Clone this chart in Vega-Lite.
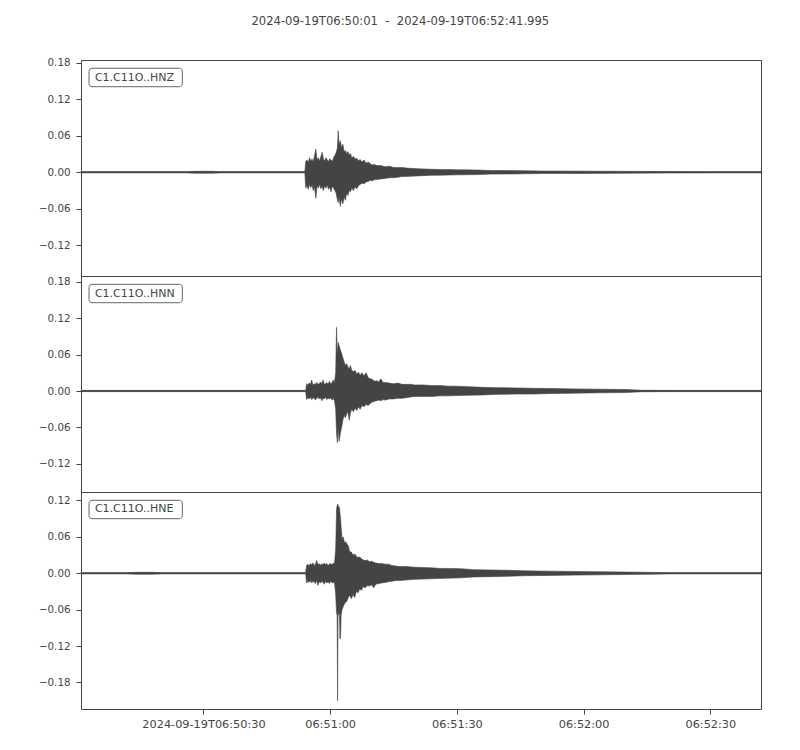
{
  "$schema": "https://vega.github.io/schema/vega-lite/v6.json",
  "background": "white",
  "padding": {"left": 37, "top": 15, "right": 40, "bottom": 20},
  "bounds": "flush",
  "title": {
    "text": "2024-09-19T06:50:01\u00a0\u00a0-\u00a0\u00a02024-09-19T06:52:41.995",
    "font": "DejaVu Sans",
    "fontSize": 11.6,
    "fontWeight": "normal",
    "color": "#444444",
    "anchor": "middle",
    "offset": 30
  },
  "datasets": {
    "z": [
      {"sec": 1, "lo": -0.001, "hi": 0.001},
      {"sec": 26, "lo": -0.001, "hi": 0.001},
      {"sec": 28, "lo": -0.0016, "hi": 0.0016},
      {"sec": 32, "lo": -0.0016, "hi": 0.0016},
      {"sec": 34, "lo": -0.001, "hi": 0.001},
      {"sec": 54.0, "lo": -0.001, "hi": 0.001},
      {"sec": 54.2, "lo": -0.026, "hi": 0.018},
      {"sec": 54.5, "lo": -0.022, "hi": 0.020},
      {"sec": 54.8, "lo": -0.028, "hi": 0.016},
      {"sec": 55.1, "lo": -0.020, "hi": 0.024},
      {"sec": 55.4, "lo": -0.025, "hi": 0.018},
      {"sec": 55.7, "lo": -0.021, "hi": 0.022},
      {"sec": 56.0, "lo": -0.030, "hi": 0.017},
      {"sec": 56.3, "lo": -0.024, "hi": 0.028},
      {"sec": 56.6, "lo": -0.043, "hi": 0.038},
      {"sec": 56.9, "lo": -0.022, "hi": 0.020},
      {"sec": 57.2, "lo": -0.026, "hi": 0.024},
      {"sec": 57.5, "lo": -0.020, "hi": 0.018},
      {"sec": 57.8, "lo": -0.027, "hi": 0.026},
      {"sec": 58.1, "lo": -0.023, "hi": 0.033},
      {"sec": 58.4, "lo": -0.030, "hi": 0.022},
      {"sec": 58.7, "lo": -0.022, "hi": 0.019},
      {"sec": 59.0, "lo": -0.026, "hi": 0.024},
      {"sec": 59.3, "lo": -0.021, "hi": 0.020},
      {"sec": 59.6, "lo": -0.028, "hi": 0.018},
      {"sec": 59.9, "lo": -0.024, "hi": 0.022},
      {"sec": 60.2, "lo": -0.032, "hi": 0.020},
      {"sec": 60.5, "lo": -0.023, "hi": 0.018},
      {"sec": 60.8, "lo": -0.026, "hi": 0.024},
      {"sec": 61.1, "lo": -0.030, "hi": 0.028},
      {"sec": 61.4, "lo": -0.034, "hi": 0.032},
      {"sec": 61.7, "lo": -0.045, "hi": 0.040},
      {"sec": 61.9, "lo": -0.050, "hi": 0.068},
      {"sec": 62.1, "lo": -0.040, "hi": 0.045},
      {"sec": 62.4, "lo": -0.056, "hi": 0.052},
      {"sec": 62.7, "lo": -0.044, "hi": 0.040},
      {"sec": 63.0, "lo": -0.052, "hi": 0.046},
      {"sec": 63.3, "lo": -0.040, "hi": 0.034},
      {"sec": 63.6, "lo": -0.046, "hi": 0.036},
      {"sec": 63.9, "lo": -0.034, "hi": 0.030},
      {"sec": 64.2, "lo": -0.038, "hi": 0.034},
      {"sec": 64.5, "lo": -0.030, "hi": 0.028},
      {"sec": 64.8, "lo": -0.032, "hi": 0.031},
      {"sec": 65.1, "lo": -0.026, "hi": 0.024},
      {"sec": 65.5, "lo": -0.030, "hi": 0.026},
      {"sec": 65.9, "lo": -0.024, "hi": 0.022},
      {"sec": 66.3, "lo": -0.027, "hi": 0.023},
      {"sec": 66.7, "lo": -0.022, "hi": 0.019},
      {"sec": 67.1, "lo": -0.020, "hi": 0.021},
      {"sec": 67.5, "lo": -0.018, "hi": 0.017},
      {"sec": 68.0, "lo": -0.019, "hi": 0.020},
      {"sec": 68.5, "lo": -0.016, "hi": 0.015},
      {"sec": 69.0, "lo": -0.015, "hi": 0.017},
      {"sec": 69.5, "lo": -0.013, "hi": 0.014},
      {"sec": 70.0, "lo": -0.014, "hi": 0.012},
      {"sec": 70.5, "lo": -0.012, "hi": 0.013},
      {"sec": 71.0, "lo": -0.012, "hi": 0.011},
      {"sec": 72.0, "lo": -0.011, "hi": 0.011},
      {"sec": 73.0, "lo": -0.010, "hi": 0.009},
      {"sec": 74.0, "lo": -0.009, "hi": 0.010},
      {"sec": 75.0, "lo": -0.009, "hi": 0.008},
      {"sec": 76.0, "lo": -0.008, "hi": 0.008},
      {"sec": 77.0, "lo": -0.007, "hi": 0.008},
      {"sec": 78.0, "lo": -0.007, "hi": 0.007},
      {"sec": 79.0, "lo": -0.0065, "hi": 0.0065},
      {"sec": 80.5, "lo": -0.006, "hi": 0.006},
      {"sec": 82, "lo": -0.0055, "hi": 0.0055},
      {"sec": 84, "lo": -0.005, "hi": 0.005},
      {"sec": 86, "lo": -0.0048, "hi": 0.0045},
      {"sec": 88, "lo": -0.0045, "hi": 0.0045},
      {"sec": 90, "lo": -0.0042, "hi": 0.004},
      {"sec": 92, "lo": -0.004, "hi": 0.004},
      {"sec": 95, "lo": -0.0038, "hi": 0.0036},
      {"sec": 98, "lo": -0.003, "hi": 0.003},
      {"sec": 102, "lo": -0.0028, "hi": 0.0028},
      {"sec": 106, "lo": -0.0025, "hi": 0.0025},
      {"sec": 110, "lo": -0.002, "hi": 0.002},
      {"sec": 120, "lo": -0.0018, "hi": 0.0018},
      {"sec": 130, "lo": -0.0015, "hi": 0.0015},
      {"sec": 140, "lo": -0.0012, "hi": 0.0012},
      {"sec": 150, "lo": -0.001, "hi": 0.001},
      {"sec": 161.995, "lo": -0.001, "hi": 0.001}
    ],
    "n": [
      {"sec": 1, "lo": -0.001, "hi": 0.001},
      {"sec": 54.2, "lo": -0.001, "hi": 0.001},
      {"sec": 54.4, "lo": -0.014, "hi": 0.012},
      {"sec": 54.7, "lo": -0.011, "hi": 0.010},
      {"sec": 55.0, "lo": -0.013, "hi": 0.013},
      {"sec": 55.3, "lo": -0.010, "hi": 0.011},
      {"sec": 55.6, "lo": -0.014, "hi": 0.018},
      {"sec": 55.9, "lo": -0.012, "hi": 0.010},
      {"sec": 56.2, "lo": -0.011, "hi": 0.012},
      {"sec": 56.5, "lo": -0.015, "hi": 0.011},
      {"sec": 56.8, "lo": -0.012, "hi": 0.014},
      {"sec": 57.1, "lo": -0.010, "hi": 0.011},
      {"sec": 57.4, "lo": -0.013, "hi": 0.012},
      {"sec": 57.7, "lo": -0.011, "hi": 0.015},
      {"sec": 58.0, "lo": -0.016, "hi": 0.012},
      {"sec": 58.3, "lo": -0.012, "hi": 0.018},
      {"sec": 58.6, "lo": -0.013, "hi": 0.011},
      {"sec": 58.9, "lo": -0.010, "hi": 0.012},
      {"sec": 59.2, "lo": -0.014, "hi": 0.014},
      {"sec": 59.5, "lo": -0.012, "hi": 0.011},
      {"sec": 59.8, "lo": -0.013, "hi": 0.016},
      {"sec": 60.1, "lo": -0.011, "hi": 0.012},
      {"sec": 60.4, "lo": -0.015, "hi": 0.013},
      {"sec": 60.7, "lo": -0.012, "hi": 0.018},
      {"sec": 61.0, "lo": -0.016, "hi": 0.014},
      {"sec": 61.3, "lo": -0.030, "hi": 0.030},
      {"sec": 61.5, "lo": -0.070, "hi": 0.105},
      {"sec": 61.7, "lo": -0.085, "hi": 0.060},
      {"sec": 61.9, "lo": -0.060, "hi": 0.080},
      {"sec": 62.1, "lo": -0.083, "hi": 0.075},
      {"sec": 62.4, "lo": -0.070, "hi": 0.068},
      {"sec": 62.7, "lo": -0.060, "hi": 0.062},
      {"sec": 63.0, "lo": -0.048, "hi": 0.055},
      {"sec": 63.3, "lo": -0.040, "hi": 0.048},
      {"sec": 63.6, "lo": -0.044, "hi": 0.042},
      {"sec": 63.9, "lo": -0.038, "hi": 0.045},
      {"sec": 64.2, "lo": -0.034, "hi": 0.040},
      {"sec": 64.5, "lo": -0.048, "hi": 0.036},
      {"sec": 64.8, "lo": -0.036, "hi": 0.042},
      {"sec": 65.1, "lo": -0.030, "hi": 0.034},
      {"sec": 65.5, "lo": -0.034, "hi": 0.032},
      {"sec": 65.9, "lo": -0.028, "hi": 0.034},
      {"sec": 66.3, "lo": -0.032, "hi": 0.028},
      {"sec": 66.7, "lo": -0.026, "hi": 0.031},
      {"sec": 67.1, "lo": -0.030, "hi": 0.026},
      {"sec": 67.5, "lo": -0.024, "hi": 0.030},
      {"sec": 68.0, "lo": -0.026, "hi": 0.025},
      {"sec": 68.5, "lo": -0.022, "hi": 0.030},
      {"sec": 69.0, "lo": -0.024, "hi": 0.022},
      {"sec": 69.5, "lo": -0.020, "hi": 0.020},
      {"sec": 70.0, "lo": -0.018, "hi": 0.019},
      {"sec": 70.5, "lo": -0.017, "hi": 0.016},
      {"sec": 71.0, "lo": -0.016, "hi": 0.017},
      {"sec": 71.5, "lo": -0.015, "hi": 0.015},
      {"sec": 72.0, "lo": -0.016, "hi": 0.020},
      {"sec": 72.5, "lo": -0.014, "hi": 0.014},
      {"sec": 73.0, "lo": -0.015, "hi": 0.014},
      {"sec": 74.0, "lo": -0.013, "hi": 0.013},
      {"sec": 75.0, "lo": -0.013, "hi": 0.012},
      {"sec": 76.0, "lo": -0.012, "hi": 0.013},
      {"sec": 77.0, "lo": -0.012, "hi": 0.011},
      {"sec": 78.0, "lo": -0.011, "hi": 0.011},
      {"sec": 79.0, "lo": -0.010, "hi": 0.011},
      {"sec": 80.0, "lo": -0.009, "hi": 0.010},
      {"sec": 82.0, "lo": -0.009, "hi": 0.010},
      {"sec": 84.0, "lo": -0.009, "hi": 0.009},
      {"sec": 86.0, "lo": -0.008, "hi": 0.009},
      {"sec": 88.0, "lo": -0.008, "hi": 0.008},
      {"sec": 90.0, "lo": -0.0075, "hi": 0.008},
      {"sec": 93.0, "lo": -0.007, "hi": 0.007},
      {"sec": 96.0, "lo": -0.0065, "hi": 0.006},
      {"sec": 100, "lo": -0.0055, "hi": 0.0055},
      {"sec": 104, "lo": -0.005, "hi": 0.005},
      {"sec": 108, "lo": -0.005, "hi": 0.0045},
      {"sec": 113, "lo": -0.004, "hi": 0.004},
      {"sec": 118, "lo": -0.0035, "hi": 0.0035},
      {"sec": 124, "lo": -0.003, "hi": 0.003},
      {"sec": 130, "lo": -0.0025, "hi": 0.0025},
      {"sec": 134, "lo": -0.0012, "hi": 0.0012},
      {"sec": 140, "lo": -0.001, "hi": 0.001},
      {"sec": 161.995, "lo": -0.001, "hi": 0.001}
    ],
    "e": [
      {"sec": 1, "lo": -0.001, "hi": 0.001},
      {"sec": 12, "lo": -0.001, "hi": 0.001},
      {"sec": 14, "lo": -0.0016, "hi": 0.0016},
      {"sec": 18, "lo": -0.0016, "hi": 0.0016},
      {"sec": 20, "lo": -0.001, "hi": 0.001},
      {"sec": 54.2, "lo": -0.001, "hi": 0.001},
      {"sec": 54.4, "lo": -0.016, "hi": 0.013},
      {"sec": 54.7, "lo": -0.013, "hi": 0.015},
      {"sec": 55.0, "lo": -0.015, "hi": 0.012},
      {"sec": 55.3, "lo": -0.012, "hi": 0.016},
      {"sec": 55.6, "lo": -0.016, "hi": 0.014},
      {"sec": 55.9, "lo": -0.013, "hi": 0.017},
      {"sec": 56.2, "lo": -0.014, "hi": 0.013},
      {"sec": 56.5, "lo": -0.017, "hi": 0.015},
      {"sec": 56.8, "lo": -0.012, "hi": 0.021},
      {"sec": 57.1, "lo": -0.020, "hi": 0.014},
      {"sec": 57.4, "lo": -0.014, "hi": 0.016},
      {"sec": 57.7, "lo": -0.016, "hi": 0.013},
      {"sec": 58.0, "lo": -0.013, "hi": 0.016},
      {"sec": 58.3, "lo": -0.015, "hi": 0.014},
      {"sec": 58.6, "lo": -0.018, "hi": 0.017},
      {"sec": 58.9, "lo": -0.013, "hi": 0.014},
      {"sec": 59.2, "lo": -0.016, "hi": 0.016},
      {"sec": 59.5, "lo": -0.014, "hi": 0.013},
      {"sec": 59.8, "lo": -0.017, "hi": 0.015},
      {"sec": 60.1, "lo": -0.013, "hi": 0.016},
      {"sec": 60.4, "lo": -0.015, "hi": 0.014},
      {"sec": 60.7, "lo": -0.016, "hi": 0.017},
      {"sec": 61.0, "lo": -0.014, "hi": 0.015},
      {"sec": 61.3, "lo": -0.035, "hi": 0.040},
      {"sec": 61.5, "lo": -0.065, "hi": 0.105},
      {"sec": 61.65, "lo": -0.070, "hi": 0.112},
      {"sec": 61.75, "lo": -0.210, "hi": 0.114},
      {"sec": 61.85, "lo": -0.072, "hi": 0.113},
      {"sec": 62.0, "lo": -0.065, "hi": 0.110},
      {"sec": 62.2, "lo": -0.068, "hi": 0.108},
      {"sec": 62.3, "lo": -0.108, "hi": 0.100},
      {"sec": 62.45, "lo": -0.105, "hi": 0.090},
      {"sec": 62.6, "lo": -0.068, "hi": 0.075},
      {"sec": 62.8, "lo": -0.060, "hi": 0.057},
      {"sec": 63.1, "lo": -0.055, "hi": 0.060},
      {"sec": 63.4, "lo": -0.050, "hi": 0.050},
      {"sec": 63.7, "lo": -0.048, "hi": 0.052},
      {"sec": 64.0, "lo": -0.045, "hi": 0.048},
      {"sec": 64.3, "lo": -0.040, "hi": 0.045},
      {"sec": 64.6, "lo": -0.036, "hi": 0.036},
      {"sec": 65.0, "lo": -0.042, "hi": 0.035},
      {"sec": 65.4, "lo": -0.035, "hi": 0.030},
      {"sec": 65.8, "lo": -0.040, "hi": 0.032},
      {"sec": 66.2, "lo": -0.030, "hi": 0.028},
      {"sec": 66.6, "lo": -0.032, "hi": 0.026},
      {"sec": 67.0, "lo": -0.026, "hi": 0.027},
      {"sec": 67.4, "lo": -0.028, "hi": 0.024},
      {"sec": 67.8, "lo": -0.022, "hi": 0.022},
      {"sec": 68.3, "lo": -0.024, "hi": 0.021},
      {"sec": 68.8, "lo": -0.020, "hi": 0.022},
      {"sec": 69.3, "lo": -0.021, "hi": 0.019},
      {"sec": 69.8, "lo": -0.019, "hi": 0.020},
      {"sec": 70.3, "lo": -0.024, "hi": 0.018},
      {"sec": 70.8, "lo": -0.018, "hi": 0.017},
      {"sec": 71.5, "lo": -0.017, "hi": 0.016},
      {"sec": 72.2, "lo": -0.016, "hi": 0.016},
      {"sec": 73.0, "lo": -0.015, "hi": 0.015},
      {"sec": 73.8, "lo": -0.014, "hi": 0.015},
      {"sec": 74.6, "lo": -0.013, "hi": 0.013},
      {"sec": 75.5, "lo": -0.012, "hi": 0.012},
      {"sec": 76.5, "lo": -0.012, "hi": 0.011},
      {"sec": 78, "lo": -0.011, "hi": 0.011},
      {"sec": 80, "lo": -0.010, "hi": 0.010},
      {"sec": 82, "lo": -0.0095, "hi": 0.0095},
      {"sec": 84, "lo": -0.009, "hi": 0.009},
      {"sec": 86, "lo": -0.0085, "hi": 0.008},
      {"sec": 88, "lo": -0.008, "hi": 0.008},
      {"sec": 91, "lo": -0.0075, "hi": 0.0075},
      {"sec": 94, "lo": -0.006, "hi": 0.006},
      {"sec": 98, "lo": -0.0055, "hi": 0.0055},
      {"sec": 102, "lo": -0.005, "hi": 0.005},
      {"sec": 106, "lo": -0.004, "hi": 0.004},
      {"sec": 112, "lo": -0.0035, "hi": 0.0035},
      {"sec": 118, "lo": -0.003, "hi": 0.003},
      {"sec": 124, "lo": -0.0025, "hi": 0.0025},
      {"sec": 130, "lo": -0.002, "hi": 0.002},
      {"sec": 136, "lo": -0.0015, "hi": 0.0015},
      {"sec": 140, "lo": -0.001, "hi": 0.001},
      {"sec": 161.995, "lo": -0.001, "hi": 0.001}
    ]
  },
  "spacing": 0,
  "vconcat": [
    {
      "width": 680,
      "height": 216,
      "layer": [
        {
          "data": {"name": "z"},
          "mark": {"type": "area", "color": "#444444", "stroke": "#444444", "strokeWidth": 0.6},
          "encoding": {
            "x": {"field": "sec", "type": "quantitative", "scale": {"domain": [1, 161.995], "nice": false}, "axis": null},
            "y": {
              "field": "hi", "type": "quantitative",
              "scale": {"domain": [-0.1704, 0.1845], "nice": false},
              "axis": {"values": [-0.12, -0.06, 0, 0.06, 0.12, 0.18], "labelExpr": "(datum.value < 0 ? '\u2212' : '') + format(abs(datum.value), '.2f')"}
            },
            "y2": {"field": "lo"}
          }
        },
        {
          "data": {"values": [{}]},
          "mark": {"type": "rule", "color": "#444444", "strokeWidth": 1.5},
          "encoding": {"y": {"datum": 0}}
        },
        {
          "data": {"values": [{"label": "C1.C11O..HNZ"}]},
          "mark": {"type": "rect", "fill": "white", "stroke": "#666666", "strokeWidth": 1, "cornerRadius": 3},
          "encoding": {"x": {"datum": 2.9}, "x2": {"datum": 25.0}, "y": {"datum": 0.1709}, "y2": {"datum": 0.1406}}
        },
        {
          "data": {"values": [{"label": "C1.C11O..HNZ"}]},
          "mark": {"type": "text", "align": "left", "baseline": "middle", "font": "DejaVu Sans", "fontSize": 11, "color": "#444444"},
          "encoding": {"x": {"datum": 4.3}, "y": {"datum": 0.1557}, "text": {"field": "label"}}
        }
      ]
    },
    {
      "width": 680,
      "height": 216,
      "layer": [
        {
          "data": {"name": "n"},
          "mark": {"type": "area", "color": "#444444", "stroke": "#444444", "strokeWidth": 0.6},
          "encoding": {
            "x": {"field": "sec", "type": "quantitative", "scale": {"domain": [1, 161.995], "nice": false}, "axis": null},
            "y": {
              "field": "hi", "type": "quantitative",
              "scale": {"domain": [-0.1664, 0.1895], "nice": false},
              "axis": {"values": [-0.12, -0.06, 0, 0.06, 0.12, 0.18], "labelExpr": "(datum.value < 0 ? '\u2212' : '') + format(abs(datum.value), '.2f')"}
            },
            "y2": {"field": "lo"}
          }
        },
        {
          "data": {"values": [{}]},
          "mark": {"type": "rule", "color": "#444444", "strokeWidth": 1.5},
          "encoding": {"y": {"datum": 0}}
        },
        {
          "data": {"values": [{"label": "C1.C11O..HNN"}]},
          "mark": {"type": "rect", "fill": "white", "stroke": "#666666", "strokeWidth": 1, "cornerRadius": 3},
          "encoding": {"x": {"datum": 2.9}, "x2": {"datum": 25.0}, "y": {"datum": 0.1758}, "y2": {"datum": 0.1455}}
        },
        {
          "data": {"values": [{"label": "C1.C11O..HNN"}]},
          "mark": {"type": "text", "align": "left", "baseline": "middle", "font": "DejaVu Sans", "fontSize": 11, "color": "#444444"},
          "encoding": {"x": {"datum": 4.3}, "y": {"datum": 0.1606}, "text": {"field": "label"}}
        }
      ]
    },
    {
      "width": 680,
      "height": 217,
      "layer": [
        {
          "data": {"name": "e"},
          "mark": {"type": "area", "color": "#444444", "stroke": "#444444", "strokeWidth": 0.6},
          "encoding": {
            "x": {
              "field": "sec", "type": "quantitative", "scale": {"domain": [1, 161.995], "nice": false},
              "axis": {
                "values": [30, 60, 90, 120, 150],
                "labelFontSize": 11.3,
                "labelPadding": 4,
                "labelExpr": "datum.value == 30 ? '2024-09-19T06:50:30' : datum.value == 60 ? '06:51:00' : datum.value == 90 ? '06:51:30' : datum.value == 120 ? '06:52:00' : '06:52:30'"
              }
            },
            "y": {
              "field": "hi", "type": "quantitative",
              "scale": {"domain": [-0.2237, 0.134], "nice": false},
              "axis": {"values": [-0.18, -0.12, -0.06, 0, 0.06, 0.12], "labelExpr": "(datum.value < 0 ? '\u2212' : '') + format(abs(datum.value), '.2f')"}
            },
            "y2": {"field": "lo"}
          }
        },
        {
          "data": {"values": [{}]},
          "mark": {"type": "rule", "color": "#444444", "strokeWidth": 1.5},
          "encoding": {"y": {"datum": 0}}
        },
        {
          "data": {"values": [{"label": "C1.C11O..HNE"}]},
          "mark": {"type": "rect", "fill": "white", "stroke": "#666666", "strokeWidth": 1, "cornerRadius": 3},
          "encoding": {"x": {"datum": 2.9}, "x2": {"datum": 25.0}, "y": {"datum": 0.1203}, "y2": {"datum": 0.09}}
        },
        {
          "data": {"values": [{"label": "C1.C11O..HNE"}]},
          "mark": {"type": "text", "align": "left", "baseline": "middle", "font": "DejaVu Sans", "fontSize": 11, "color": "#444444"},
          "encoding": {"x": {"datum": 4.3}, "y": {"datum": 0.1052}, "text": {"field": "label"}}
        }
      ]
    }
  ],
  "config": {
    "view": {"stroke": "#444444", "strokeWidth": 1},
    "axis": {
      "title": null,
      "domain": false,
      "grid": false,
      "ticks": true,
      "tickSize": 5,
      "tickColor": "#444444",
      "labelPadding": 6,
      "labelFont": "DejaVu Sans",
      "labelFontSize": 10.3,
      "labelColor": "#444444"
    },
    "axisX": {"labelAngle": 0}
  }
}
